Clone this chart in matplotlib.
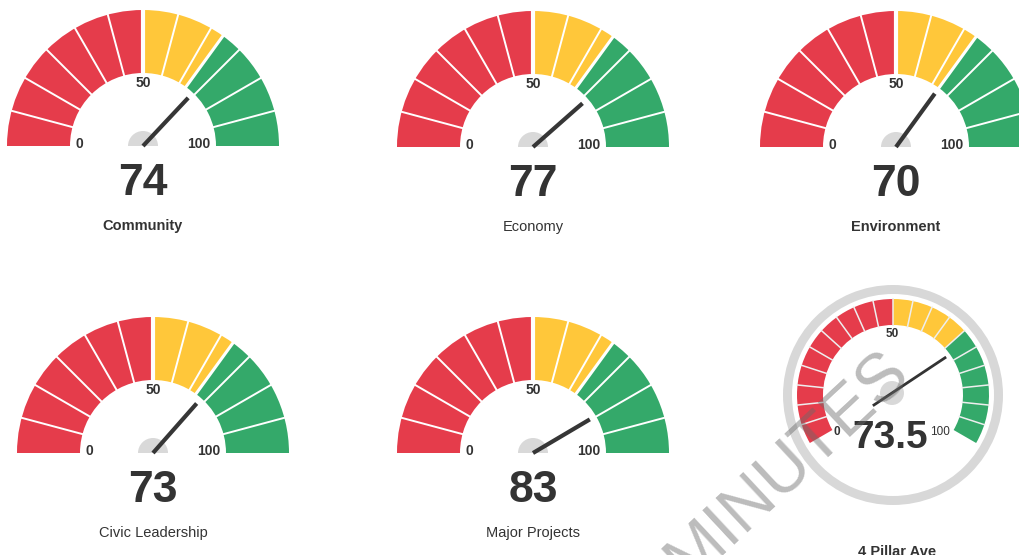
import numpy as np
import matplotlib.pyplot as plt
from matplotlib.patches import Wedge, Circle

plt.rcParams['font.family'] = ['Liberation Sans', 'DejaVu Sans']

# gauge data
titles = ["Community", "Economy", "Environment", "Civic Leadership", "Major Projects", "4 Pillar Ave"]
values = [74, 77, 70, 73, 83, 73.5]
value_labels = ["74", "77", "70", "73", "83", "73.5"]
bold_title = [True, False, True, False, False, True]
band_edges = [0, 50, 70, 100]
band_colors = ["#e53c4b", "#ffc73a", "#34a96a"]
tick_labels = ["0", "50", "100"]

# layout (pixel positions of gauge centres, y from top)
centers = [(143, 146), (533, 147), (896, 147), (153, 453), (533, 453), (893, 395)]

W, H = 1020, 555
TXT = "#333333"

fig = plt.figure(figsize=(10.2, 5.55), dpi=100)
ax = fig.add_axes([0, 0, 1, 1])
ax.set_xlim(0, W)
ax.set_ylim(0, H)
ax.set_aspect('equal')
ax.axis('off')


def half_gauge(cx, cy, value, vlabel, title, bold):
    y = H - cy
    r_out, r_in = 136, 73
    ang = lambda v: 180 - 1.8 * v
    for lo, hi, col in zip(band_edges[:-1], band_edges[1:], band_colors):
        ax.add_patch(Wedge((cx, y), r_out, ang(hi), ang(lo), width=r_out - r_in,
                           fc=col, ec='none', zorder=1))
    # white tick lines across the band
    ticks = list(np.linspace(0, 100, 13)[1:-1]) + [70]
    for t in ticks:
        a = np.radians(ang(t))
        lw = 3 if t == 50 else (2.2 if t == 70 else 1.4)
        ax.plot([cx + (r_in - 1) * np.cos(a), cx + (r_out + 2) * np.cos(a)],
                [y + (r_in - 1) * np.sin(a), y + (r_out + 2) * np.sin(a)],
                color='white', lw=lw, zorder=2, solid_capstyle='butt')
    # labels
    ax.text(cx - 64, y - 2, tick_labels[0], ha='center', va='baseline',
            fontsize=10, fontweight='bold', color=TXT)
    ax.text(cx, y + 59, tick_labels[1], ha='center', va='baseline',
            fontsize=10, fontweight='bold', color=TXT)
    ax.text(cx + 56, y - 2, tick_labels[2], ha='center', va='baseline',
            fontsize=10, fontweight='bold', color=TXT)
    # pivot and needle
    ax.add_patch(Wedge((cx, y), 15, 0, 180, fc='#d9d9d9', ec='none', zorder=3))
    a = np.radians(ang(value))
    ax.plot([cx, cx + 66 * np.cos(a)], [y, y + 66 * np.sin(a)],
            color='#363636', lw=3, zorder=4, solid_capstyle='butt')
    ax.text(cx, y - 49, vlabel, ha='center', va='baseline', fontsize=32,
            fontweight='bold', color=TXT)
    ax.text(cx, y - 84, title, ha='center', va='baseline', fontsize=10.5,
            fontweight='bold' if bold else 'normal', color=TXT)


def round_gauge(cx, cy, value, vlabel, title, bold):
    y = H - cy
    ang = lambda v: 210 - 2.4 * v
    ax.add_patch(Wedge((cx, y), 110, 0, 360, width=9, fc='#d8d8d8', ec='none', zorder=1))
    r_out, r_in = 96, 70
    for lo, hi, col in zip(band_edges[:-1], band_edges[1:], band_colors):
        ax.add_patch(Wedge((cx, y), r_out, ang(hi), ang(lo), width=r_out - r_in,
                           fc=col, ec='none', zorder=1))
    for t in np.arange(5, 100, 5):
        a = np.radians(ang(t))
        ax.plot([cx + (r_in - 1) * np.cos(a), cx + (r_out + 1) * np.cos(a)],
                [y + (r_in - 1) * np.sin(a), y + (r_out + 1) * np.sin(a)],
                color='#eeeeee', lw=1.1, zorder=2, solid_capstyle='butt')
    ax.text(cx - 56, y - 40, tick_labels[0], ha='center', va='baseline',
            fontsize=8.5, fontweight='bold', color=TXT)
    ax.text(cx - 1, y + 58, tick_labels[1], ha='center', va='baseline',
            fontsize=8.5, fontweight='bold', color=TXT)
    ax.text(cx + 47, y - 40, tick_labels[2], ha='center', va='baseline',
            fontsize=8.5, color=TXT)
    ax.add_patch(Circle((cx - 1, y + 2), 12, fc='#cfcfcf', ec='none', alpha=0.8, zorder=3))
    a = np.radians(ang(value))
    ax.plot([cx - 1 - 23 * np.cos(a), cx - 1 + 65 * np.cos(a)],
            [y + 2 - 23 * np.sin(a), y + 2 + 65 * np.sin(a)],
            color='#333333', lw=2, zorder=4, solid_capstyle='butt')
    ax.text(cx - 3, y - 53, vlabel, ha='center', va='baseline', fontsize=28,
            fontweight='bold', color=TXT, zorder=5)
    ax.text(cx + 4, y - 161, title, ha='center', va='baseline', fontsize=10.5,
            fontweight='bold' if bold else 'normal', color=TXT)


for i in range(5):
    half_gauge(centers[i][0], centers[i][1], values[i], value_labels[i], titles[i], bold_title[i])
round_gauge(centers[5][0], centers[5][1], values[5], value_labels[5], titles[5], bold_title[5])

# watermark
ax.text(788, H - 466, "MINUTES", ha='center', va='center', rotation=43,
        rotation_mode='anchor', fontsize=49, color='#6a6a6a', alpha=0.45,
        family=['Liberation Sans', 'DejaVu Sans'], fontweight='normal', zorder=10)

fig.savefig("out.png", dpi=100)
